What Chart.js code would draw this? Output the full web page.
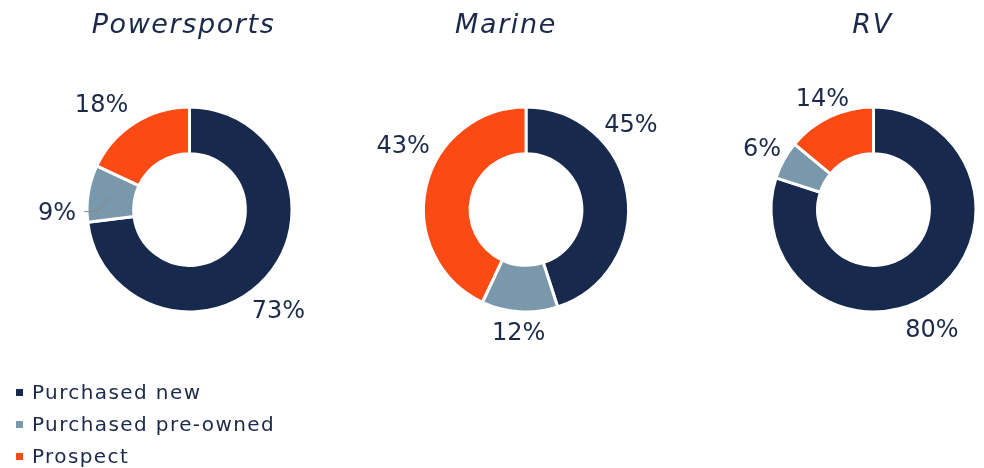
<!DOCTYPE html>
<html>
<head>
<meta charset="utf-8">
<script src="https://cdn.jsdelivr.net/npm/chart.js@4"></script>
<style>
  html, body { margin: 0; padding: 0; background: #fff; overflow: hidden; }
  #wrap { position: relative; width: 984px; height: 468px; overflow: hidden; }
  canvas { position: absolute; top: 0; }
  #legend {
    position: absolute; left: 16px; top: 376px;
    font-family: "DejaVu Sans", sans-serif; font-size: 20px;
    letter-spacing: 1.4px; color: #1b2a4a;
  }
  #legend .row { display: flex; align-items: center; height: 32px; line-height: 32px; }
  #legend .box { width: 7px; height: 7px; margin-right: 9px; }
</style>
</head>
<body>
<div id="wrap">
  <canvas id="psChart" width="321" height="419" style="left:29px"></canvas>
  <canvas id="marineChart" width="320" height="419" style="left:366px"></canvas>
  <canvas id="rvChart" width="319" height="419" style="left:714px"></canvas>
  <div id="legend"></div>
</div>

<script>
// ========================
// DATA
// ========================
const CATEGORIES = ["Purchased new", "Purchased pre-owned", "Prospect"];
const SEGMENTS = ["Powersports", "Marine", "RV"];

const POWERSPORTS = [73, 9, 18];
const MARINE = [45, 12, 43];
const RV = [80, 6, 14];

// ========================
// STYLE
// ========================
const COLORS = ["#17294c", "#7a98ab", "#fc4a14"];
const TEXT_COLOR = "#1b2a4a";
const FONT = "'DejaVu Sans', sans-serif";

// label placement: [angle nudge in degrees, distance from centre]
const PS_LABELS = [[6.8, 133.5], [-9.9, 132.5], [-7.2, 138]];
const MARINE_LABELS = [[-30.5, 136], [-0.1, 122], [15.3, 139]];
const RV_LABELS = [[9.7, 132], [0.3, 127.6], [0.8, 123.5]];

// ========================
// PLUGIN: title + % labels
// ========================
const donutText = {
  id: "donutText",
  afterDatasetsDraw(chart, args, opts) {
    const ctx = chart.ctx;
    const area = chart.chartArea;
    const cx = (area.left + area.right) / 2;

    ctx.save();
    ctx.fillStyle = TEXT_COLOR;

    // title
    ctx.font = `italic 27px ${FONT}`;
    ctx.letterSpacing = "1.6px";
    ctx.textAlign = "center";
    ctx.textBaseline = "alphabetic";
    ctx.fillText(opts.title, cx + opts.titleShift, 33);

    // percentage labels
    ctx.letterSpacing = "0px";
    ctx.font = `24px ${FONT}`;
    const meta = chart.getDatasetMeta(0);
    const values = chart.data.datasets[0].data;

    meta.data.forEach((arc, i) => {
      const p = arc.getProps(["x", "y", "startAngle", "endAngle"], true);
      const [nudge, dist] = opts.place[i];
      const a = (p.startAngle + p.endAngle) / 2 + nudge * Math.PI / 180;
      const lx = p.x + Math.cos(a) * dist;
      const ly = p.y + Math.sin(a) * dist;
      const text = values[i] + "%";
      ctx.fillText(text, lx, ly + 8.8);

      // small leader line back into the slice
      if (opts.leader === i) {
        const w = ctx.measureText(text).width;
        const mid = (p.startAngle + p.endAngle) / 2;
        const sx = lx + w / 2 + 8;
        ctx.beginPath();
        ctx.strokeStyle = "#8b8580";
        ctx.lineWidth = 1;
        ctx.moveTo(sx, ly);
        ctx.lineTo(sx + 13, ly);
        ctx.lineTo(p.x + Math.cos(mid) * 80, p.y + Math.sin(mid) * 80);
        ctx.stroke();
      }
    });
    ctx.restore();
  }
};

// ========================
// CHARTS
// ========================
function makeDonut(id, values, title, titleShift, place, leader) {
  return new Chart(document.getElementById(id), {
    type: "doughnut",
    data: {
      labels: CATEGORIES,
      datasets: [{
        data: values,
        backgroundColor: COLORS,
        borderColor: "#ffffff",
        borderWidth: 3
      }]
    },
    options: {
      responsive: false,
      devicePixelRatio: 1,
      animation: false,
      events: [],
      radius: 102.5,
      cutout: "54.5%",
      layout: { padding: 0 },
      plugins: {
        legend: { display: false },
        tooltip: { enabled: false },
        donutText: { title, titleShift, place, leader }
      }
    },
    plugins: [donutText]
  });
}

makeDonut("psChart", POWERSPORTS, SEGMENTS[0], -6, PS_LABELS, 1);
makeDonut("marineChart", MARINE, SEGMENTS[1], -20, MARINE_LABELS, -1);
makeDonut("rvChart", RV, SEGMENTS[2], -1, RV_LABELS, -1);

// ========================
// LEGEND
// ========================
(function buildLegend() {
  const legend = document.getElementById("legend");
  CATEGORIES.forEach((name, i) => {
    const row = document.createElement("div");
    row.className = "row";
    const box = document.createElement("span");
    box.className = "box";
    box.style.background = COLORS[i];
    const label = document.createElement("span");
    label.textContent = name;
    row.appendChild(box);
    row.appendChild(label);
    legend.appendChild(row);
  });
})();
</script>
</body>
</html>
